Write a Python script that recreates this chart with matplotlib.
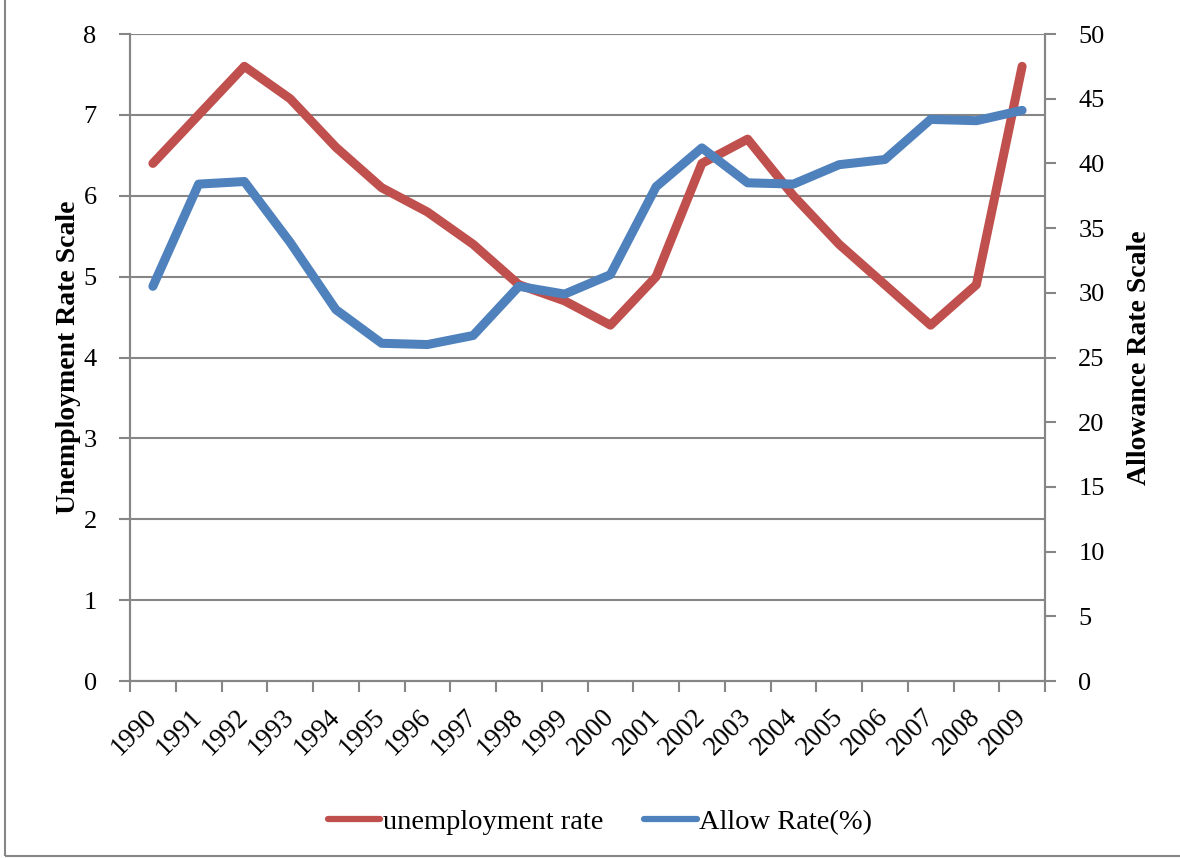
import matplotlib.pyplot as plt
import numpy as np
from matplotlib.patches import Rectangle

years = [str(y) for y in range(1990, 2010)]
unemployment = [6.4, 7.0, 7.6, 7.2, 6.6, 6.1, 5.8, 5.4, 4.9, 4.7,
                4.4, 5.0, 6.4, 6.7, 6.0, 5.4, 4.9, 4.4, 4.9, 7.6]
allow_rate = [30.5, 38.4, 38.6, 33.9, 28.7, 26.1, 26.0, 26.7, 30.5, 29.9,
              31.4, 38.2, 41.2, 38.5, 38.4, 39.9, 40.3, 43.4, 43.3, 44.1]

plt.rcParams['font.family'] = ['Liberation Serif', 'DejaVu Serif']

W, H = 1180, 858
fig = plt.figure(figsize=(W / 100, H / 100), dpi=100)
ax = fig.add_axes([130 / W, 1 - 681 / H, (1045 - 130) / W, (681 - 34) / H])
ax2 = ax.twinx()

grey = '#868686'
red = '#C0504D'
blue = '#4F81BD'

x = np.arange(len(years))
ax.plot(x, unemployment, color=red, lw=6.5, solid_capstyle='round',
        solid_joinstyle='round', label='unemployment rate')
ax2.plot(x, allow_rate, color=blue, lw=6.5, solid_capstyle='round',
         solid_joinstyle='round', label='Allow Rate(%)')

ax.set_xlim(-0.5, len(years) - 0.5)
ax.set_ylim(0, 8)
ax2.set_ylim(0, 50)
ax.set_yticks(range(0, 9))
ax2.set_yticks(range(0, 51, 5))

# ticks sit between categories, labels sit under each category
ax.set_xticks(np.arange(len(years) + 1) - 0.5)
ax.set_xticklabels([])
ax.set_xticks(x, minor=True)
ax.set_xticklabels(years, minor=True, rotation=45, ha='right', va='center',
                   rotation_mode='anchor', fontsize=19.5)
ax.tick_params(axis='x', which='major', length=8, color=grey, width=1.5, direction='out')
ax.tick_params(axis='x', which='minor', length=0, pad=23)

ax.grid(axis='y', color=grey, lw=1.5)
ax.set_axisbelow(True)
for a in (ax, ax2):
    a.spines['top'].set_visible(False)
    for s in ('left', 'right', 'bottom'):
        a.spines[s].set_color(grey)
        a.spines[s].set_linewidth(1.5)
ax.tick_params(axis='y', length=8, width=1.5, color=grey, labelsize=19, pad=16)
ax2.tick_params(axis='y', length=8, width=1.5, color=grey, labelsize=19, pad=16)

ax.set_ylabel('Unemployment Rate Scale', fontsize=20, fontweight='bold', labelpad=2)
ax2.set_ylabel('Allowance Rate Scale', fontsize=20, fontweight='bold', labelpad=16)

h1, l1 = ax.get_legend_handles_labels()
h2, l2 = ax2.get_legend_handles_labels()
fig.legend(h1 + h2, l1 + l2, loc='center', bbox_to_anchor=(600 / W, 1 - 822 / H),
           ncol=2, frameon=False, fontsize=20.5, handlelength=1.85,
           handletextpad=0.08, columnspacing=1.45)
for line in fig.legends[0].get_lines():
    line.set_linewidth(4.5)

fig.patches.append(Rectangle((5 / W, 2 / H), 1.2, 1.2, transform=fig.transFigure,
                             fill=False, edgecolor=grey, lw=1.5))

fig.savefig('out.png', dpi=100)
